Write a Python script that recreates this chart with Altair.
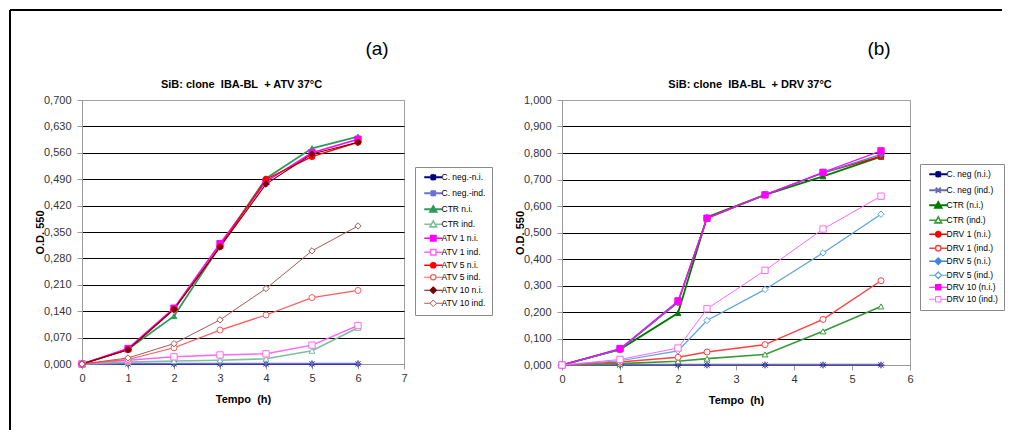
import altair as alt
import pandas as pd

# ---------------- data: panel (a) ----------------
time_a = [0, 1, 2, 3, 4, 5, 6]
names_a = ["C. neg.-n.i.", "C. neg.-ind.", "CTR n.i.", "CTR ind.", "ATV 1 n.i.",
           "ATV 1 ind.", "ATV 5 n.i.", "ATV 5 ind.", "ATV 10 n.i.", "ATV 10 ind."]
a_cneg_ni = [0.000, 0.000, 0.000, 0.000, 0.000, 0.000, 0.000]
a_cneg_ind = [0.000, 0.001, 0.001, 0.001, 0.001, 0.001, 0.001]
a_ctr_ni = [0.000, 0.039, 0.127, 0.313, 0.492, 0.572, 0.603]
a_ctr_ind = [0.000, 0.005, 0.008, 0.010, 0.014, 0.035, 0.096]
a_atv1_ni = [0.000, 0.041, 0.148, 0.319, 0.484, 0.560, 0.596]
a_atv1_ind = [0.000, 0.010, 0.019, 0.024, 0.027, 0.050, 0.102]
a_atv5_ni = [0.000, 0.038, 0.145, 0.311, 0.490, 0.550, 0.588]
a_atv5_ind = [0.000, 0.012, 0.043, 0.090, 0.130, 0.176, 0.195]
a_atv10_ni = [0.000, 0.038, 0.145, 0.310, 0.477, 0.557, 0.588]
a_atv10_ind = [0.000, 0.016, 0.054, 0.117, 0.200, 0.300, 0.366]
values_a = [a_cneg_ni, a_cneg_ind, a_ctr_ni, a_ctr_ind, a_atv1_ni,
            a_atv1_ind, a_atv5_ni, a_atv5_ind, a_atv10_ni, a_atv10_ind]
markers_a = ["aster", "aster", "tri", "tri", "sq", "sq", "circ", "circ", "dia", "dia"]
colors_a = ["#000080", "#6f6fd0", "#2e9a5e", "#7cc09c", "#ff00ff",
            "#ff66ff", "#ff0000", "#ff5a5a", "#7a0000", "#a85a56"]
filled_a = [True, True, True, False, True, False, True, False, True, False]
yticks_a = [0.0, 0.07, 0.14, 0.21, 0.28, 0.35, 0.42, 0.49, 0.56, 0.63, 0.70]
xticks_a = [0, 1, 2, 3, 4, 5, 6, 7]

# ---------------- data: panel (b) ----------------
time_b = [0, 1, 2, 2.5, 3.5, 4.5, 5.5]
names_b = ["C. neg (n.i.)", "C. neg (ind.)", "CTR (n.i.)", "CTR (ind.)", "DRV 1 (n.i.)",
           "DRV 1 (ind.)", "DRV 5 (n.i.)", "DRV 5 (ind.)", "DRV 10 (n.i.)", "DRV 10 (ind.)"]
b_cneg_ni = [0.000, 0.000, 0.000, 0.000, 0.000, 0.000, 0.000]
b_cneg_ind = [0.000, 0.001, 0.001, 0.001, 0.001, 0.001, 0.001]
b_ctr_ni = [0.000, 0.059, 0.196, 0.558, 0.642, 0.712, 0.786]
b_ctr_ind = [0.000, 0.005, 0.014, 0.024, 0.040, 0.127, 0.221]
b_drv1_ni = [0.000, 0.059, 0.237, 0.554, 0.642, 0.725, 0.788]
b_drv1_ind = [0.000, 0.011, 0.029, 0.049, 0.077, 0.172, 0.318]
b_drv5_ni = [0.000, 0.059, 0.237, 0.554, 0.642, 0.725, 0.795]
b_drv5_ind = [0.000, 0.016, 0.053, 0.168, 0.285, 0.423, 0.569]
b_drv10_ni = [0.000, 0.062, 0.242, 0.554, 0.642, 0.727, 0.808]
b_drv10_ind = [0.000, 0.021, 0.064, 0.212, 0.357, 0.513, 0.637]
values_b = [b_cneg_ni, b_cneg_ind, b_ctr_ni, b_ctr_ind, b_drv1_ni,
            b_drv1_ind, b_drv5_ni, b_drv5_ind, b_drv10_ni, b_drv10_ind]
markers_b = ["aster", "x", "tri", "tri", "circ", "circ", "dia", "dia", "sq", "sq"]
colors_b = ["#000080", "#6a6ab0", "#007a00", "#3a9a3a", "#ff0000",
            "#ff4040", "#3f86dc", "#5aa2da", "#ff00ff", "#ff66ff"]
filled_b = [True, True, True, False, True, False, True, False, True, False]
yticks_b = [0.0, 0.1, 0.2, 0.3, 0.4, 0.5, 0.6, 0.7, 0.8, 0.9, 1.0]
xticks_b = [0, 1, 2, 3, 4, 5, 6]

# ---------------- marker shapes ----------------
PLOT_SHAPES = {
    "aster": "M-1,0L1,0M0,-1L0,1M-0.72,-0.72L0.72,0.72M-0.72,0.72L0.72,-0.72",
    "x": "M-0.8,-0.8L0.8,0.8M-0.8,0.8L0.8,-0.8",
    "tri": "triangle-up",
    "sq": "square",
    "circ": "circle",
    "dia": "diamond",
}
PLOT_SIZES = {"aster": 44, "x": 40, "tri": 34, "sq": 40, "circ": 36, "dia": 40}
LEGEND_SHAPES = {
    "aster": "M-3,0L3,0M0,-1.1L0,1.1M-0.85,-0.85L0.85,0.85M-0.85,0.85L0.85,-0.85",
    "x": "M-3,0L3,0M-0.85,-0.85L0.85,0.85M-0.85,0.85L0.85,-0.85",
    "tri": "M-3,0L-0.6,0M0.6,0L3,0M0,-1.1L1.1,0.85L-1.1,0.85Z",
    "sq": "M-3,0L-0.9,0M0.9,0L3,0M-0.9,-0.9L0.9,-0.9L0.9,0.9L-0.9,0.9Z",
    "circ": "M-3,0L-0.9,0M0.9,0L3,0M-0.9,0A0.9,0.9,0,1,1,0.9,0A0.9,0.9,0,1,1,-0.9,0Z",
    "dia": "M-3,0L-1.1,0M1.1,0L3,0M0,-1.1L1.1,0L0,1.1L-1.1,0Z",
}

LABEL_EXPR = "replace(format(datum.value, '.3f'), '.', ',')"
LEGEND_FONT = "Liberation Sans"


def long_df(times, names, values, markers):
    rows = []
    for i, (name, vals, mk) in enumerate(zip(names, values, markers)):
        for t, v in zip(times, vals):
            rows.append({"t": t, "v": v, "series": name, "marker": mk, "order": i})
    return pd.DataFrame(rows)


def panel(times, names, values, markers, colors, filled, xdom, xticks, ydom, yticks,
          width, height, letter, letter_x, title, title_x, legend_x, legend_y, frame=False):
    df = long_df(times, names, values, markers)
    fills = [c if f else "white" for c, f in zip(colors, filled)]
    widths = [2 if "n.i." in n else 1 for n in names]
    cscale = alt.Scale(domain=names, range=colors)
    fscale = alt.Scale(domain=names, range=fills)
    wscale = alt.Scale(domain=names, range=widths)
    xs = alt.Scale(domain=xdom, nice=False, zero=False)
    ys = alt.Scale(domain=ydom, nice=False)
    grid_color = {"condition": {"test": f"datum.value >= {ydom[1] * 0.999}", "value": "#a0a0a0"},
                  "value": "#000000"}
    xenc = alt.X("t:Q", scale=xs,
                 axis=alt.Axis(values=xticks, tickCount=len(xticks), format="d", grid=False,
                               title="Tempo\u00a0 (h)",
                               titleFontWeight="bold", titleFontSize=11, titlePadding=10,
                               tickSize=5, labelPadding=3, labelFlush=False,
                               labelOverlap=False))
    yenc = alt.Y("v:Q", scale=ys,
                 axis=alt.Axis(values=yticks, tickCount=len(yticks), labelExpr=LABEL_EXPR,
                               title="O.D. 550",
                               titleFontWeight="bold", titleFontSize=11,
                               titleX=-42, titleY=height / 2, titleBaseline="middle",
                               titleAlign="center", titleAngle=270,
                               tickSize=5, labelPadding=6, gridColor=grid_color,
                               gridWidth=1, labelOverlap=False, labelFlush=False))
    base = alt.Chart(df)
    lines = base.mark_line(opacity=1).encode(
        x=xenc, y=yenc,
        color=alt.Color("series:N", scale=cscale, legend=None),
        strokeWidth=alt.StrokeWidth("series:N", scale=wscale, legend=None),
        order="t:Q",
    )
    layers = [lines]
    for mk in dict.fromkeys(markers):
        pts = base.transform_filter(f"datum.marker == '{mk}'").mark_point(
            shape=PLOT_SHAPES[mk], size=PLOT_SIZES[mk], opacity=1, strokeWidth=1
        ).encode(
            x="t:Q", y="v:Q",
            color=alt.Color("series:N", scale=cscale, legend=None),
            fill=alt.Fill("series:N", scale=fscale, legend=None),
        )
        layers.append(pts)
    leg_paths = [LEGEND_SHAPES[m] for m in markers]
    legend_layer = base.transform_filter("false").mark_point(opacity=1).encode(
        shape=alt.Shape("series:N", scale=alt.Scale(domain=names, range=leg_paths),
                        legend=alt.Legend(orient="none", legendX=legend_x, legendY=legend_y,
                                          title=None, strokeColor="#8a8a8a", fillColor="white",
                                          padding=6, labelFont=LEGEND_FONT,
                                          labelFontSize=8.5, labelColor="black",
                                          symbolSize=36, rowPadding=1.0, labelOffset=4,
                                          symbolOffset=8, symbolOpacity=1)),
        color=alt.Color("series:N", scale=cscale),
        fill=alt.Fill("series:N", scale=fscale),
        strokeWidth=alt.StrokeWidth("series:N", scale=wscale),
    )
    layers.append(legend_layer)
    one = alt.Data(values=[{"k": 1}])
    layers.append(alt.Chart(one).mark_text(fontSize=19, font="Liberation Sans", align="center",
                                           baseline="middle", color="black").encode(
        x=alt.value(letter_x), y=alt.value(-51), text=alt.value(letter)))
    layers.append(alt.Chart(one).mark_text(fontSize=11, font="Liberation Sans", fontWeight="bold",
                                           align="center", baseline="middle", color="black").encode(
        x=alt.value(title_x), y=alt.value(-15), text=alt.value(title)))
    if frame:
        layers.append(alt.Chart(one).mark_rule(color="black", strokeWidth=2).encode(
            x=alt.value(-72), x2=alt.value(920), y=alt.value(-90)))
        layers.append(alt.Chart(one).mark_rule(color="black", strokeWidth=2).encode(
            x=alt.value(-72), y=alt.value(-90), y2=alt.value(330)))
    return alt.layer(*layers).resolve_scale(
        shape="independent", color="independent", fill="independent", strokeWidth="independent"
    ).properties(width=width, height=height)


pa = panel(time_a, names_a, values_a, markers_a, colors_a, filled_a, [0, 7], xticks_a,
           [0, 0.7], yticks_a, 322, 264, "(a)", 295,
           "SiB: clone\u00a0 IBA-BL\u00a0 + ATV 37°C", 159.5, 333, 67, frame=True)
pb = panel(time_b, names_b, values_b, markers_b, colors_b, filled_b, [0, 6], xticks_b,
           [0, 1.0], yticks_b, 348, 265, "(b)", 317,
           "SiB: clone\u00a0 IBA-BL\u00a0 + DRV 37°C", 188, 358, 64)

chart = alt.hconcat(pa, pb, spacing=158, bounds="flush").resolve_scale(
    color="independent", fill="independent", shape="independent", strokeWidth="independent",
    x="independent", y="independent"
).properties(padding=0, background="white").configure_view(
    stroke="#a0a0a0", strokeWidth=1
).configure_axis(
    labelFont="Liberation Sans", labelFontSize=11, labelColor="#333333",
    titleFont="Liberation Sans", titleColor="black", domainColor="#999999",
    tickColor="#999999", domainWidth=1
)

chart.save("out.html", embed_options={"renderer": "svg", "actions": False})
